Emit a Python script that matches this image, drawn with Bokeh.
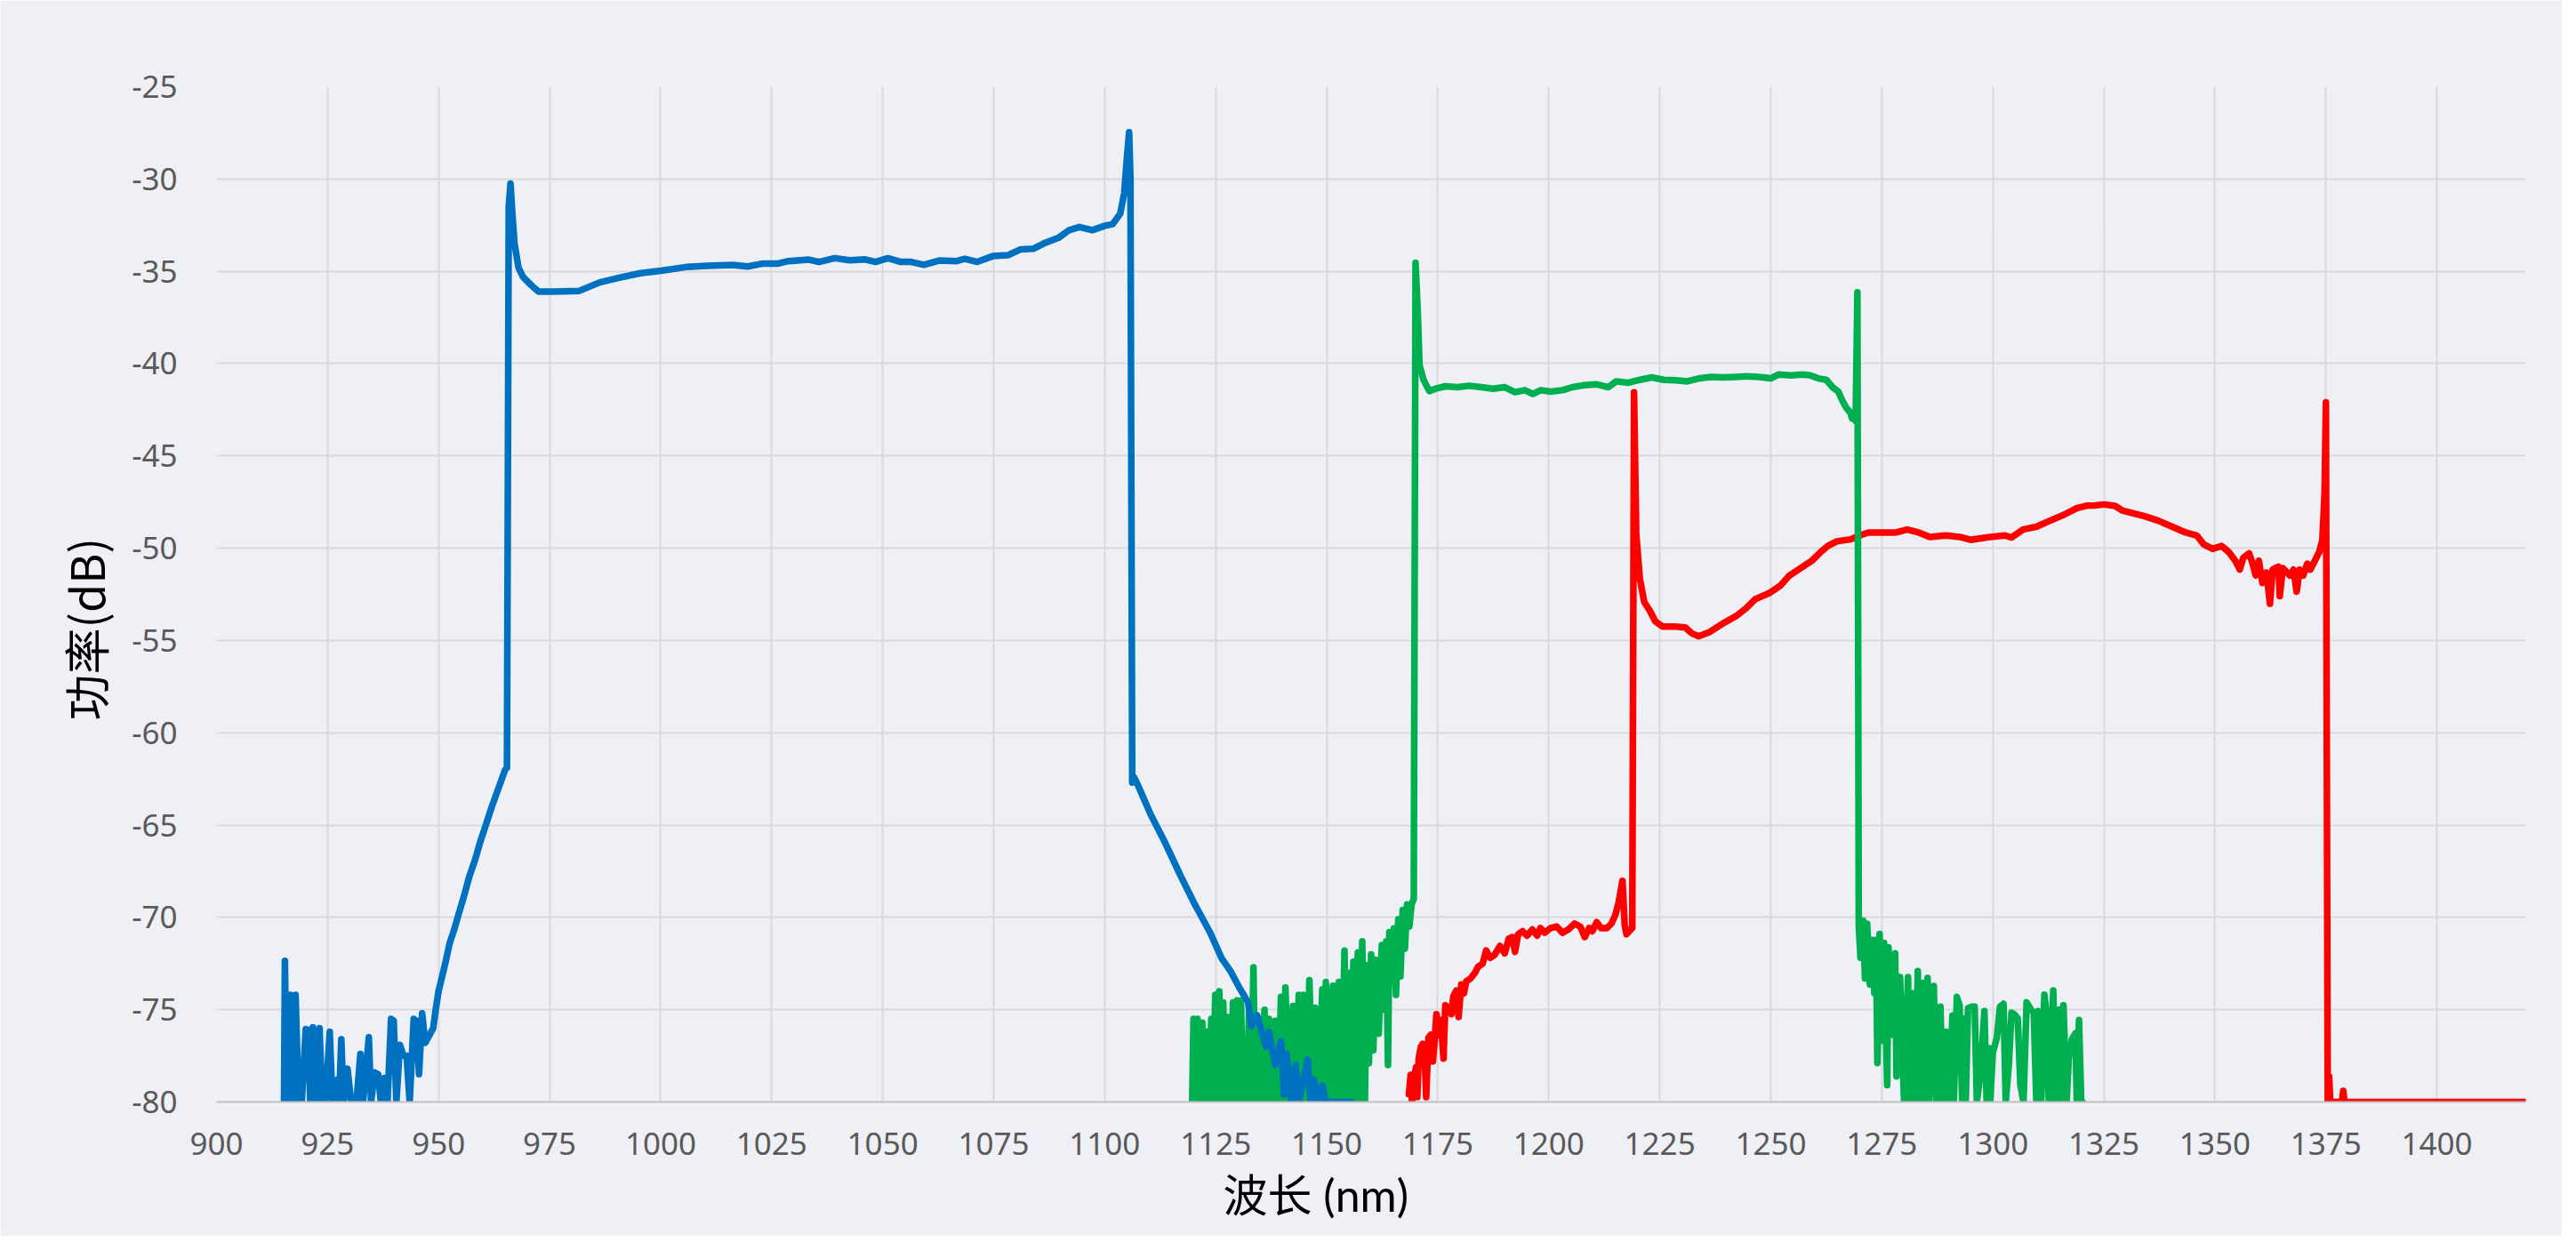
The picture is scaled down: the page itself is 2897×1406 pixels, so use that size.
from bokeh.plotting import figure
from bokeh.models import FixedTicker, Title
from bokeh.embed import file_html
from bokeh.resources import INLINE

# ---------------- data (wavelength nm, power dB) ----------------
x_ticks = [900, 925, 950, 975, 1000, 1025, 1050, 1075, 1100, 1125, 1150, 1175,
           1200, 1225, 1250, 1275, 1300, 1325, 1350, 1375, 1400]
y_ticks = [-80, -75, -70, -65, -60, -55, -50, -45, -40, -35, -30, -25]
y_tick_labels = ["-80", "-75", "-70", "-65", "-60", "-55", "-50", "-45", "-40", "-35", "-30", "-25"]

blue_pts = [
    (915.2, -80), (915.4, -72.35), (915.8, -80), (916.6, -74.2), (917.0, -80), (917.8, -74.2),
    (918.5, -80), (919.2, -80), (920.1, -76.05), (920.7, -76.1), (921.1, -80), (921.7, -75.96),
    (922.3, -80), (923.2, -76.0), (923.8, -80), (924.5, -80), (925.5, -76.2), (926.1, -80),
    (927.2, -78.8), (927.6, -80), (928.1, -76.6), (928.6, -80), (929.5, -78.2), (930.3, -80),
    (931.5, -80), (932.4, -77.4), (933.0, -80), (934.3, -76.5), (934.8, -80), (935.6, -78.4),
    (936.4, -78.5), (937.0, -80), (937.8, -78.7), (938.5, -80), (939.3, -75.5), (939.9, -75.6),
    (940.5, -80), (941.3, -76.9), (942.1, -77.5), (942.8, -77.5), (943.5, -80), (944.4, -75.5),
    (945.0, -75.6), (945.6, -78.5), (946.3, -75.2), (947.0, -76.8), (947.9, -76.4), (948.8, -76.0),
    (949.3, -75.1), (950.0, -74.0), (950.8, -73.2), (951.6, -72.4), (952.5, -71.4), (953.6, -70.6),
    (954.8, -69.6), (955.9, -68.7), (956.9, -67.8), (958.2, -66.9), (959.4, -65.9), (960.5, -65.1),
    (962.0, -64.0), (963.5, -63.0), (965.0, -62.0), (965.4, -61.9), (965.8, -31.5), (966.2, -30.25),
    (966.6, -31.8), (967.1, -33.5), (968.0, -34.8), (969.0, -35.3), (970.8, -35.74), (972.5, -36.1),
    (975.9, -36.1), (981.7, -36.06), (986.3, -35.6), (990.9, -35.34), (995.5, -35.1), (1000.1, -34.97),
    (1005.8, -34.77), (1010.4, -34.7), (1016.2, -34.66), (1019.6, -34.74), (1023.1, -34.58),
    (1026.5, -34.58), (1028.8, -34.45), (1033.4, -34.37), (1035.7, -34.49), (1039.2, -34.29),
    (1042.6, -34.4), (1046.1, -34.36), (1048.4, -34.49), (1051.2, -34.29), (1054.1, -34.49),
    (1056.4, -34.49), (1059.3, -34.65), (1062.7, -34.42), (1066.7, -34.45), (1068.5, -34.32),
    (1071.3, -34.49), (1074.8, -34.18), (1078.2, -34.13), (1081.1, -33.81), (1083.9, -33.78),
    (1086.3, -33.49), (1089.7, -33.17), (1092.0, -32.77), (1094.3, -32.6), (1097.2, -32.77),
    (1100.1, -32.53), (1101.8, -32.45), (1103.5, -31.88), (1104.4, -30.76), (1104.9, -29.15),
    (1105.5, -27.47), (1105.8, -29.96), (1106.2, -62.7), (1106.6, -62.4), (1107.6, -62.9),
    (1110.3, -64.4), (1113.7, -66.0), (1117.0, -67.7), (1120.3, -69.3), (1123.7, -70.8),
    (1126.3, -72.2), (1128.3, -72.9), (1130.3, -73.8), (1132.3, -74.6), (1133.0, -75.9),
    (1134.3, -75.3), (1136.3, -77.0), (1137.0, -76.2), (1138.4, -78.0), (1139.7, -76.7),
    (1140.4, -79.6), (1141.0, -77.4), (1142.0, -80), (1143.0, -78.0), (1143.7, -80),
    (1145.7, -77.7), (1146.4, -80), (1147.1, -78.8), (1148.0, -80), (1149.0, -79.1),
    (1149.7, -80), (1155.6, -80),
]

green_pts = [
    (1119.7, -80), (1120.0, -75.5), (1120.4, -80), (1120.9, -75.5), (1121.4, -80), (1122.0, -75.7),
    (1122.5, -80), (1123.0, -76.2), (1123.5, -80), (1124.0, -75.5), (1124.4, -80), (1124.9, -74.2),
    (1125.3, -80), (1125.8, -74.0), (1126.2, -80), (1126.7, -74.6), (1127.2, -80), (1127.7, -75.4),
    (1128.3, -80), (1128.9, -74.6), (1129.3, -80), (1129.8, -74.5), (1130.2, -80), (1130.7, -74.5),
    (1131.1, -80), (1131.5, -76.7), (1132.0, -80), (1132.5, -75.0), (1133.0, -80), (1133.5, -72.7),
    (1133.9, -80), (1134.3, -75.8), (1135.0, -80), (1136.0, -75.0), (1136.5, -80), (1137.0, -75.5),
    (1137.7, -80), (1138.4, -75.6), (1139.0, -80), (1139.7, -74.3), (1140.2, -80), (1140.7, -73.8),
    (1141.5, -80), (1142.4, -74.8), (1143.0, -80), (1143.7, -74.2), (1144.2, -80), (1144.7, -74.2),
    (1145.4, -80), (1146.1, -73.4), (1146.8, -80), (1147.4, -74.9), (1148.2, -80), (1149.0, -73.9),
    (1149.4, -80), (1149.8, -73.5), (1150.6, -80), (1151.4, -73.7), (1152.0, -80), (1152.7, -73.5),
    (1153.3, -80), (1154.0, -71.8), (1154.5, -80), (1155.0, -73.0), (1155.5, -80), (1156.0, -72.4),
    (1156.5, -80), (1157.0, -71.9), (1157.5, -80), (1158.0, -71.3), (1158.6, -80), (1159.0, -72.6),
    (1159.5, -77.9), (1160.0, -72.0), (1160.5, -77.2), (1161.0, -72.3), (1161.7, -76.3),
    (1162.4, -71.5), (1162.9, -75.0), (1163.4, -71.3), (1163.8, -78.0), (1164.1, -70.8),
    (1164.6, -73.5), (1165.1, -70.6), (1165.6, -74.2), (1166.1, -70.1), (1166.6, -73.2),
    (1167.1, -69.6), (1167.6, -71.7), (1168.1, -69.3), (1168.6, -70.5), (1169.1, -69.3),
    (1169.6, -69.0), (1170.0, -34.54), (1170.5, -37.19), (1170.9, -40.08), (1171.8, -40.88),
    (1173.1, -41.49), (1174.5, -41.36), (1176.7, -41.23), (1179.4, -41.28), (1182.1, -41.2),
    (1184.8, -41.28), (1187.4, -41.36), (1190.1, -41.28), (1192.4, -41.55), (1194.6, -41.44),
    (1196.4, -41.65), (1198.2, -41.44), (1200.4, -41.52), (1203.1, -41.44), (1205.3, -41.28),
    (1208.0, -41.17), (1210.7, -41.12), (1213.4, -41.28), (1215.2, -40.96), (1217.8, -41.04),
    (1220.5, -40.88), (1223.2, -40.75), (1225.9, -40.88), (1228.6, -40.91), (1231.2, -40.96),
    (1233.9, -40.8), (1236.6, -40.72), (1239.3, -40.75), (1242.0, -40.72), (1244.6, -40.69),
    (1247.3, -40.72), (1250.0, -40.8), (1251.8, -40.59), (1254.5, -40.64), (1257.2, -40.59),
    (1258.9, -40.64), (1260.7, -40.8), (1262.5, -40.88), (1263.9, -41.28), (1265.2, -41.52),
    (1266.1, -42.0), (1267.0, -42.4), (1267.9, -42.65), (1268.3, -42.97), (1268.8, -42.8),
    (1269.1, -43.1), (1269.5, -36.14), (1269.8, -70.42), (1270.2, -72.19), (1270.8, -70.18),
    (1271.2, -73.31), (1271.7, -70.34), (1272.3, -73.63), (1272.9, -71.22), (1273.3, -74.11),
    (1273.7, -71.22), (1274.0, -77.89), (1274.5, -70.9), (1275.0, -76.68), (1275.5, -71.38),
    (1276.2, -79.09), (1276.5, -71.62), (1277.2, -76.36), (1278.0, -71.95), (1278.3, -78.61),
    (1279.1, -73.23), (1280.0, -79.9), (1280.9, -73.23), (1281.3, -80), (1282.1, -74.11),
    (1282.5, -80), (1283.1, -72.91), (1283.5, -80), (1284.2, -73.55), (1284.7, -80),
    (1285.3, -73.28), (1285.7, -80), (1286.7, -73.71), (1287.3, -80), (1288.2, -74.84),
    (1288.7, -80), (1289.5, -76.2), (1290.2, -80), (1290.9, -75.32), (1291.2, -80),
    (1291.9, -74.31), (1292.5, -74.76), (1293.1, -80), (1293.5, -75.48), (1293.9, -80),
    (1294.4, -74.92), (1295.2, -74.84), (1295.9, -74.84), (1296.4, -80), (1297.2, -78.45),
    (1298.1, -75.08), (1298.6, -80), (1299.0, -77.08), (1299.4, -80), (1300.0, -77.32),
    (1300.9, -76.52), (1301.6, -74.84), (1302.4, -74.68), (1302.9, -80), (1303.6, -77.97),
    (1304.2, -75.16), (1304.8, -75.24), (1305.6, -75.48), (1306.2, -79.09), (1306.9, -80),
    (1307.6, -74.6), (1308.6, -75.0), (1309.2, -75.16), (1309.8, -80), (1310.2, -75.08),
    (1310.9, -80), (1311.6, -74.19), (1312.0, -75.08), (1312.6, -80), (1313.6, -73.95),
    (1314.1, -80), (1314.9, -75.0), (1315.4, -80), (1315.9, -74.76), (1316.6, -80),
    (1317.1, -77.65), (1317.8, -76.6), (1318.6, -76.28), (1318.9, -80), (1319.4, -75.56),
    (1319.9, -80), (1320.2, -80),
]

red_pts = [
    (1168.5, -79.58), (1168.9, -78.53), (1169.2, -80), (1169.7, -78.61), (1170.1, -78.13),
    (1170.4, -79.74), (1170.7, -77.65), (1171.2, -77.01), (1171.6, -76.85), (1172.1, -77.81),
    (1172.4, -79.74), (1172.9, -76.52), (1173.4, -76.36), (1173.9, -77.81), (1174.3, -76.69),
    (1174.7, -75.24), (1175.2, -76.36), (1175.7, -75.56), (1176.3, -77.65), (1176.7, -74.76),
    (1177.4, -74.92), (1178.1, -75.24), (1178.5, -74.28), (1179.2, -73.96), (1179.7, -75.4),
    (1180.3, -73.63), (1180.9, -74.12), (1181.4, -73.47), (1182.4, -73.31), (1183.4, -72.99),
    (1184.1, -72.67), (1185.1, -72.51), (1185.9, -71.79), (1186.8, -72.19), (1187.8, -72.03),
    (1189.0, -71.55), (1190.1, -71.95), (1191.0, -71.15), (1191.8, -71.07), (1192.4, -71.87),
    (1193.1, -70.91), (1194.1, -70.75), (1195.1, -70.99), (1196.3, -70.66), (1197.4, -70.99),
    (1198.1, -70.58), (1199.1, -70.83), (1200.4, -70.58), (1201.8, -70.5), (1203.1, -70.83),
    (1204.4, -70.66), (1205.8, -70.34), (1207.1, -70.5), (1208.1, -71.07), (1209.1, -70.58),
    (1209.8, -70.75), (1210.8, -70.26), (1211.8, -70.58), (1213.1, -70.58), (1214.1, -70.34),
    (1215.0, -69.86), (1215.7, -69.22), (1216.6, -68.02), (1217.1, -70.42), (1217.5, -70.91),
    (1218.1, -70.75), (1218.8, -70.58), (1219.2, -41.55), (1219.7, -49.23), (1220.5, -51.64),
    (1221.5, -52.92), (1222.8, -53.4), (1224.0, -53.97), (1225.6, -54.24), (1228.1, -54.24),
    (1230.7, -54.29), (1232.2, -54.61), (1233.7, -54.77), (1236.3, -54.53), (1239.4, -54.05),
    (1242.4, -53.64), (1244.5, -53.24), (1246.5, -52.76), (1249.6, -52.44), (1252.1, -52.04),
    (1254.2, -51.48), (1256.7, -51.08), (1259.3, -50.67), (1261.3, -50.19), (1262.9, -49.87),
    (1264.9, -49.63), (1268.0, -49.52), (1270.0, -49.31), (1272.0, -49.15), (1275.1, -49.15),
    (1278.2, -49.15), (1280.7, -48.99), (1283.3, -49.15), (1285.8, -49.39), (1289.4, -49.31),
    (1292.5, -49.39), (1295.0, -49.55), (1298.6, -49.42), (1302.7, -49.31), (1304.2, -49.42),
    (1306.8, -48.99), (1309.9, -48.83), (1312.9, -48.51), (1316.0, -48.19), (1319.0, -47.82),
    (1321.1, -47.7), (1323.0, -47.68), (1325.0, -47.63), (1327.5, -47.71), (1329.1, -47.95),
    (1331.6, -48.11), (1334.2, -48.27), (1337.2, -48.51), (1340.3, -48.83), (1343.4, -49.15),
    (1345.9, -49.31), (1347.5, -49.8), (1349.5, -50.04), (1351.5, -49.88), (1353.1, -50.2),
    (1354.6, -50.68), (1355.6, -51.16), (1356.4, -50.52), (1357.7, -50.28), (1358.5, -50.84),
    (1359.2, -51.48), (1359.9, -50.68), (1360.7, -51.88), (1361.6, -51.32), (1362.4, -53.01),
    (1363.0, -51.16), (1364.3, -51.0), (1364.6, -52.6), (1365.3, -51.08), (1366.9, -51.48),
    (1367.7, -51.16), (1368.4, -52.36), (1369.1, -51.16), (1369.9, -51.48), (1370.8, -50.84),
    (1371.5, -51.16), (1372.5, -50.68), (1373.5, -50.2), (1374.2, -49.55), (1374.7, -46.99),
    (1375.0, -42.1), (1375.4, -80), (1375.7, -78.6), (1376.0, -80), (1378.6, -80),
    (1378.9, -79.4), (1379.2, -80), (1420.0, -80),
]

x_title = "波长 (nm)"
y_title = "功率(dB)"

# ---------------- figure ----------------
BG = "#EEF0F5"
p = figure(width=2881, height=1390, x_range=(900, 1420), y_range=(-80, -25),
           output_backend="svg", toolbar_location=None,
           min_border_left=243, min_border_right=41, min_border_top=97, min_border_bottom=151,
           background_fill_color=BG, border_fill_color=BG)
p.outline_line_color = None

p.xaxis.ticker = FixedTicker(ticks=x_ticks)
p.yaxis.ticker = FixedTicker(ticks=y_ticks)
p.yaxis.major_label_overrides = {t: s for t, s in zip(y_ticks, y_tick_labels)}
for ax in (p.xaxis[0], p.yaxis[0]):
    ax.major_tick_line_color = None
    ax.minor_tick_line_color = None
    ax.major_label_text_font = "Noto Sans"
    ax.major_label_text_font_size = "35px"
    ax.major_label_text_color = "#595959"
p.xaxis.axis_line_color = "#BFBFBF"
p.xaxis.axis_line_width = 2
p.yaxis.axis_line_color = None
p.xaxis.major_label_standoff = 28
p.yaxis.major_label_standoff = 38

p.xgrid.ticker = FixedTicker(ticks=x_ticks)
p.ygrid.ticker = FixedTicker(ticks=y_ticks)
p.grid.grid_line_color = "#D9D9D9"
p.grid.grid_line_width = 2

series = [(red_pts, "#FF0000"), (green_pts, "#00B050"), (blue_pts, "#0070C0")]
for pts, col in series:
    xs = [a for a, b in pts]
    ys = [b for a, b in pts]
    p.line(xs, ys, line_color=col, line_width=7.5, line_join="round", line_cap="round")

p.add_layout(Title(text=x_title, align="left", offset=1132, standoff=20,
                   vertical_align="bottom", text_baseline="alphabetic",
                   text_font="Lato, Noto Sans CJK SC", text_font_size="50px",
                   text_font_style="normal", text_color="#000000"), "below")
p.add_layout(Title(text=y_title, align="left", offset=429, standoff=25,
                   text_font="Noto Sans CJK SC", text_font_size="52px",
                   text_font_style="normal", text_color="#000000"), "left")

open("out.html", "w").write(file_html(p, INLINE))
